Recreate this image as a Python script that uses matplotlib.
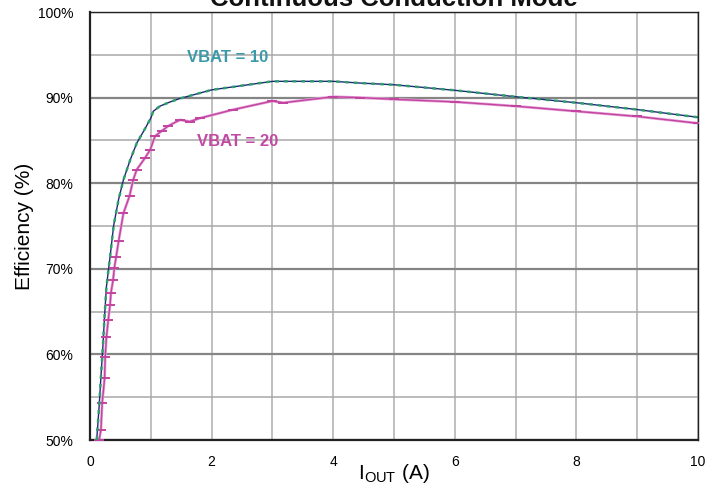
import numpy as np
import matplotlib.pyplot as plt
from matplotlib.ticker import MultipleLocator, FuncFormatter

plt.rcParams['font.family'] = ['Liberation Sans', 'DejaVu Sans']
plt.rcParams['mathtext.fontset'] = 'custom'
plt.rcParams['mathtext.rm'] = 'Liberation Sans'

# efficiency curves
iout_10 = [0.11, 0.15, 0.18, 0.21, 0.24, 0.27, 0.33, 0.39, 0.47, 0.55, 0.66, 0.77, 0.90,
           1.0, 1.04, 1.15, 1.32, 1.48, 2.0, 3.0, 4.0, 4.44, 5.0, 6.0, 7.0, 8.0, 9.0, 10.0]
eff_10 = [50.0, 53.9, 57.4, 60.7, 64.5, 67.9, 71.4, 75.1, 78.1, 80.4, 82.7, 84.7, 86.3,
          87.6, 88.4, 89.0, 89.5, 89.9, 90.9, 91.9, 91.9, 91.7, 91.5, 90.85, 90.1, 89.4,
          88.6, 87.7]

iout_20 = [0.15, 0.18, 0.20, 0.24, 0.25, 0.27, 0.30, 0.33, 0.345, 0.38, 0.40, 0.43, 0.47,
           0.55, 0.65, 0.71, 0.77, 0.90, 0.99, 1.07, 1.18, 1.29, 1.48, 1.64, 1.81, 2.36,
           3.0, 3.18, 4.0, 4.44, 5.0, 6.0, 7.0, 8.0, 9.0, 10.0]
eff_20 = [50.0, 51.2, 54.3, 57.2, 59.7, 62.0, 64.0, 65.8, 67.2, 68.7, 70.1, 71.4, 73.2,
          76.5, 78.5, 80.4, 81.6, 82.9, 83.9, 85.5, 86.1, 86.7, 87.4, 87.2, 87.6, 88.6,
          89.6, 89.4, 90.1, 90.0, 89.8, 89.5, 89.0, 88.4, 87.8, 87.0]

fig = plt.figure(figsize=(7.2, 4.99), dpi=100)
ax = fig.add_axes([90/720, 1-440/499, 608/720, 428/499])

ax.set_xlim(0, 10)
ax.set_ylim(50, 100)

# grid
ax.xaxis.set_major_locator(MultipleLocator(2))
ax.xaxis.set_minor_locator(MultipleLocator(1))
ax.yaxis.set_major_locator(MultipleLocator(10))
ax.yaxis.set_minor_locator(MultipleLocator(5))
ax.grid(True, axis='x', which='both', color='#b4b4b4', lw=1.2)
ax.grid(True, axis='y', which='major', color='#858585', lw=1.6)
ax.grid(True, axis='y', which='minor', color='#a8a8a8', lw=1.1)
ax.set_axisbelow(True)
ax.tick_params(which='both', length=0)
ax.tick_params(axis='y', pad=12, labelsize=10)
ax.tick_params(axis='x', pad=11, labelsize=10)
ax.yaxis.set_major_formatter(FuncFormatter(lambda v, p: '%d%%' % v))
for s in ax.spines.values():
    s.set_color('#222222')
    s.set_linewidth(1.0)
ax.spines['left'].set_linewidth(1.6)
ax.spines['bottom'].set_linewidth(1.6)

# VBAT = 10
ax.plot(iout_10, eff_10, color='#1c2a78', lw=1.0, zorder=3)
ax.plot(iout_10, eff_10, color='#2f9e6c', lw=1.8, ls=(0, (1.5, 2.0)), zorder=4)

# VBAT = 20
ax.plot(iout_20, eff_20, color='#e6a2da', lw=2.0, zorder=2)
ax.plot(iout_20, eff_20, color='#c2449f', lw=1.0, marker='_', ms=7, mew=1.4, zorder=3)

ax.text(2.27, 94.7, 'VBAT = 10', color='#3b9aa8', fontsize=12, fontweight='bold',
        ha='center', va='center')
ax.text(2.42, 84.85, 'VBAT = 20', color='#c24aa3', fontsize=12, fontweight='bold',
        ha='center', va='center')

ax.set_ylabel('Efficiency (%)', fontsize=15, labelpad=3)
ax.set_xlabel(r'I$_{\mathrm{OUT}}$ (A)', fontsize=15, labelpad=-5)

fig.text(394/720, 1-5.5/499, 'Continuous Conduction Mode', ha='center', va='baseline',
         fontsize=18.5, fontweight='bold', color='#111111')

fig.savefig('out.png', dpi=100)
